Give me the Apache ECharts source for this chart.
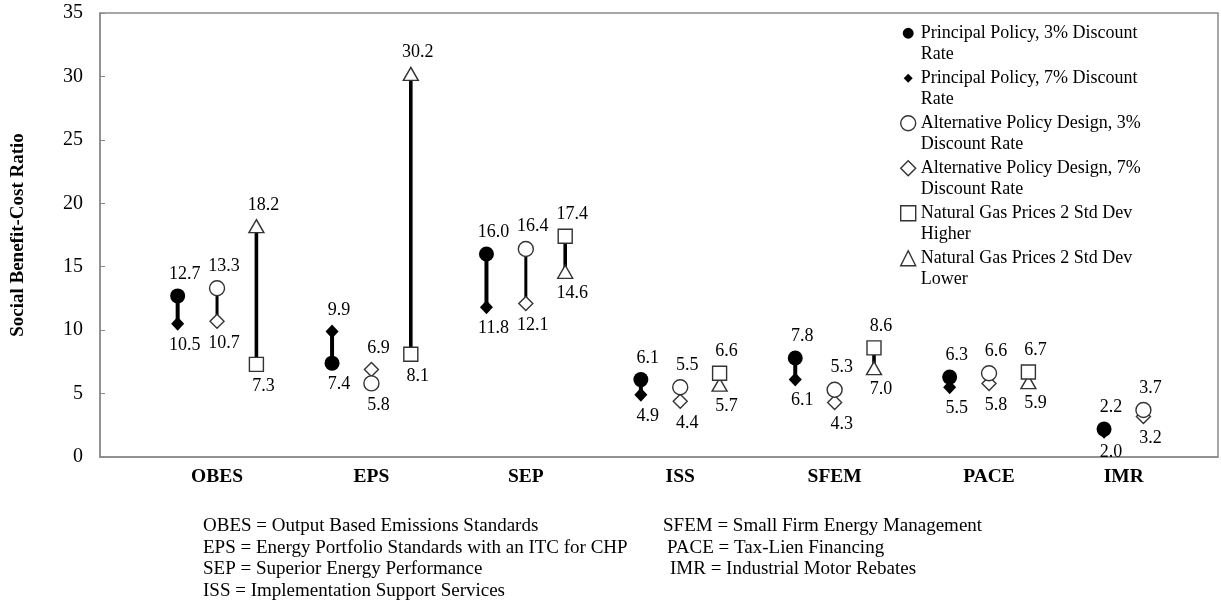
<!DOCTYPE html>
<html><head><meta charset="utf-8">
<script src="https://cdn.jsdelivr.net/npm/echarts@6/dist/echarts.min.js"></script>
<style>html,body{margin:0;padding:0;background:#fff}#c{width:1221px;height:606px}</style>
</head><body><div id="c"></div>
<script>
// ---------- data ----------
const categories = ['OBES', 'EPS', 'SEP', 'ISS', 'SFEM', 'PACE', 'IMR'];
const principal3   = [12.7,  7.4, 16.0, 6.1, 7.8, 6.3, 2.2];
const principal7   = [10.5,  9.9, 11.8, 4.9, 6.1, 5.5, 2.0];
const alternative3 = [13.3,  5.8, 16.4, 5.5, 5.3, 6.6, 3.7];
const alternative7 = [10.7,  6.9, 12.1, 4.4, 4.3, 5.8, 3.2];
const gasHigher    = [ 7.3,  8.1, 17.4, 6.6, 8.6, 6.7, null];
const gasLower     = [18.2, 30.2, 14.6, 5.7, 7.0, 5.9, null];
const seriesNames = [
  'Principal Policy, 3% Discount\nRate',
  'Principal Policy, 7% Discount\nRate',
  'Alternative Policy Design, 3%\nDiscount Rate',
  'Alternative Policy Design, 7%\nDiscount Rate',
  'Natural Gas Prices 2 Std Dev\nHigher',
  'Natural Gas Prices 2 Std Dev\nLower'
];
const yAxisName = 'Social Benefit-Cost Ratio';
const abbrevLeft = [
  'OBES = Output Based Emissions Standards',
  'EPS = Energy Portfolio Standards with an ITC for CHP',
  'SEP = Superior Energy Performance',
  'ISS = Implementation Support Services'
];
const abbrevRight = [
  'SFEM = Small Firm Energy Management',
  'PACE = Tax-Lien Financing',
  'IMR = Industrial Motor Rebates'
];

// ---------- layout / style ----------
const FONT = '"Liberation Serif", "Times New Roman", serif';
const groupOffset = [-0.255, 0, 0.255];          // principal, alternative, natural gas
const pairs = [[principal3, principal7], [alternative3, alternative7], [gasHigher, gasLower]];
const lineWidths = [4, 3, 3.6];
const symbolDefs = [
  { symbol: 'circle',   size: 15,       fill: '#000', border: '#000', bw: 0 },
  { symbol: 'diamond',  size: [13, 14], fill: '#000', border: '#000', bw: 0 },
  { symbol: 'circle',   size: 15,       fill: '#fff', border: '#333', bw: 1.4 },
  { symbol: 'diamond',  size: [14, 14], fill: '#fff', border: '#333', bw: 1.4 },
  { symbol: 'rect',     size: 14,       fill: '#fff', border: '#333', bw: 1.4 },
  { symbol: 'triangle', size: [15, 13], fill: '#fff', border: '#333', bw: 1.4 }
];
const legendIcons = [
  'path://M0,0 M20,20 M2.7,10 A7.3,7.3 0 1 1 17.3,10 A7.3,7.3 0 1 1 2.7,10 Z',
  'path://M0,0 M20,20 M10,4 L16,10 L10,16 L4,10 Z',
  'circle', 'diamond', 'rect', 'triangle'
];

// label x positions: centre of the groups present in each category
const labelPos = categories.map((c, i) => {
  const offs = pairs.map((p, g) => (p[0][i] != null ? groupOffset[g] : null)).filter(v => v != null);
  return i + offs.reduce((a, b) => a + b, 0) / offs.length;
});

// ---------- series ----------
const series = [];
const lineData = [];
pairs.forEach((pair, g) => {
  categories.forEach((c, i) => {
    const a = pair[0][i], b = pair[1][i];
    if (a == null || b == null) return;
    lineData.push([i + groupOffset[g], Math.min(a, b), Math.max(a, b), g]);
  });
});
series.push({
  type: 'custom', z: 1, silent: true,
  encode: { x: 0, y: [1, 2] },
  data: lineData,
  renderItem(params, api) {
    const x = api.value(0);
    const p1 = api.coord([x, api.value(1)]);
    const p2 = api.coord([x, api.value(2)]);
    return { type: 'line', shape: { x1: p1[0], y1: p1[1], x2: p2[0], y2: p2[1] },
             style: { stroke: '#000', lineWidth: lineWidths[api.value(3)] } };
  }
});
pairs.forEach((pair, g) => {
  pair.forEach((vals, k) => {
    const other = pair[1 - k];
    const sd = symbolDefs[g * 2 + k];
    series.push({
      type: 'scatter', name: seriesNames[g * 2 + k], z: 3 + (k === 0 ? 1 : 0),
      symbol: sd.symbol, symbolSize: sd.size,
      itemStyle: { color: sd.fill, borderColor: sd.border, borderWidth: sd.bw, opacity: 1 },
      label: { show: true, color: '#000', fontFamily: FONT, fontSize: 18, distance: 5, offset: [7, 0],
               formatter: p => p.value[1].toFixed(1) },
      data: vals.map((v, i) => v == null ? null : ({
        value: [i + groupOffset[g], v],
        label: { position: v >= other[i] ? 'top' : 'bottom' }
      })).filter(d => d)
    });
  });
});

const graphic = [];
abbrevLeft.forEach((t, i) => graphic.push({ type: 'text', x: 203, y: 526 + i * 21.7,
  style: { text: t, fontFamily: FONT, fontSize: 19, fill: '#000', verticalAlign: 'middle' } }));
const rightX = [663, 667, 670];
abbrevRight.forEach((t, i) => graphic.push({ type: 'text', x: rightX[i], y: 526 + i * 21.7,
  style: { text: t, fontFamily: FONT, fontSize: 19, fill: '#000', verticalAlign: 'middle' } }));

const chart = echarts.init(document.getElementById('c'));
chart.setOption({
  animation: false,
  backgroundColor: '#fff',
  grid: { left: 100, right: 3, top: 13, bottom: 149, show: true, borderColor: '#8a8a8a', borderWidth: 1.5 },
  xAxis: {
    type: 'value', min: -0.758, max: 6.483,
    axisLine: { show: true, lineStyle: { color: '#8a8a8a', width: 1.5 } },
    axisTick: { show: false },
    splitLine: { show: false },
    axisLabel: {
      customValues: labelPos, margin: 10,
      fontFamily: FONT, fontSize: 19.5, fontWeight: 'bold', color: '#000',
      formatter: v => { const i = labelPos.findIndex(p => Math.abs(p - v) < 1e-6); return i >= 0 ? categories[i] : ''; }
    }
  },
  yAxis: {
    type: 'value', min: 0, max: 35, interval: 5,
    name: yAxisName, nameLocation: 'middle', nameGap: 72,
    nameTextStyle: { fontFamily: FONT, fontSize: 19, fontWeight: 'bold', color: '#000' },
    axisLine: { show: true, onZero: false, lineStyle: { color: '#8a8a8a', width: 1.5 } },
    axisTick: { show: true, inside: true, length: 5, lineStyle: { color: '#8a8a8a' } },
    splitLine: { show: false },
    axisLabel: { margin: 17, fontFamily: FONT, fontSize: 20, color: '#000' }
  },
  legend: {
    orient: 'vertical', left: 900, top: 1, padding: 0,
    itemWidth: 15, itemHeight: 15, itemGap: -19.5, selectedMode: false,
    formatter: name => '\n' + name,
    data: seriesNames.map((n, i) => ({ name: n, icon: legendIcons[i],
      itemStyle: { color: symbolDefs[i].fill, borderColor: symbolDefs[i].border, borderWidth: symbolDefs[i].bw } })),
    textStyle: { fontFamily: FONT, fontSize: 18, lineHeight: 21.5, color: '#000' }
  },
  graphic,
  series
});
</script></body></html>
